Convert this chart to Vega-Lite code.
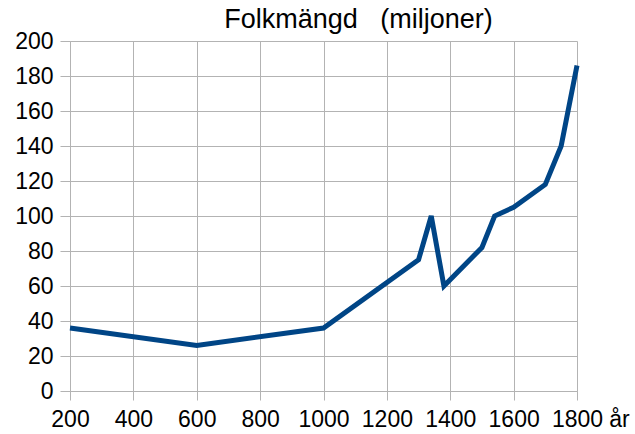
{
  "$schema": "https://vega.github.io/schema/vega-lite/v6.json",
  "width": 507,
  "height": 350,
  "autosize": "none",
  "padding": {"left": 70, "top": 41, "right": 58, "bottom": 43},
  "background": "white",
  "config": {
    "view": {"stroke": null},
    "font": "Liberation Sans"
  },
  "title": {
    "text": "Folkmängd\u00a0\u00a0\u00a0(miljoner)",
    "anchor": "middle",
    "dx": 35,
    "fontSize": 27,
    "fontWeight": "normal",
    "font": "Liberation Sans",
    "color": "#000000",
    "baseline": "alphabetic",
    "offset": -25
  },
  "data": {
    "values": [
      {"year": 200, "pop": 36},
      {"year": 600, "pop": 26},
      {"year": 1000, "pop": 36},
      {"year": 1300, "pop": 75},
      {"year": 1340, "pop": 100},
      {"year": 1380, "pop": 60},
      {"year": 1500, "pop": 82},
      {"year": 1540, "pop": 100},
      {"year": 1600, "pop": 105},
      {"year": 1700, "pop": 118},
      {"year": 1750, "pop": 140},
      {"year": 1800, "pop": 186}
    ]
  },
  "mark": {"type": "line", "color": "#004586", "strokeWidth": 5, "strokeJoin": "miter", "strokeCap": "butt"},
  "encoding": {
    "x": {
      "field": "year",
      "type": "quantitative",
      "scale": {"domain": [200, 1800], "nice": false, "zero": false},
      "axis": {
        "values": [200, 400, 600, 800, 1000, 1200, 1400, 1600, 1800],
        "format": "d",
        "title": "år",
        "titleFontSize": 23,
        "titleFontWeight": "normal",
        "titleFont": "Liberation Sans",
        "titleColor": "#000000",
        "titleX": 549,
        "titleY": 35,
        "titleAlign": "center",
        "titleBaseline": "alphabetic",
        "labelFontSize": 23,
        "labelColor": "#000000",
        "labelFont": "Liberation Sans",
        "labelPadding": 8,
        "labelFlush": false,
        "labelOverlap": false,
        "tickColor": "#b3b3b3",
        "tickSize": 9,
        "domainColor": "#b3b3b3",
        "gridColor": "#b3b3b3",
        "grid": true
      }
    },
    "y": {
      "field": "pop",
      "type": "quantitative",
      "scale": {"domain": [0, 200], "nice": false},
      "axis": {
        "values": [0, 20, 40, 60, 80, 100, 120, 140, 160, 180, 200],
        "title": null,
        "labelFontSize": 23,
        "labelColor": "#000000",
        "labelFont": "Liberation Sans",
        "labelPadding": 7,
        "labelFlush": false,
        "labelOverlap": false,
        "tickColor": "#b3b3b3",
        "tickSize": 10,
        "domainColor": "#b3b3b3",
        "gridColor": "#b3b3b3",
        "grid": true
      }
    }
  }
}
